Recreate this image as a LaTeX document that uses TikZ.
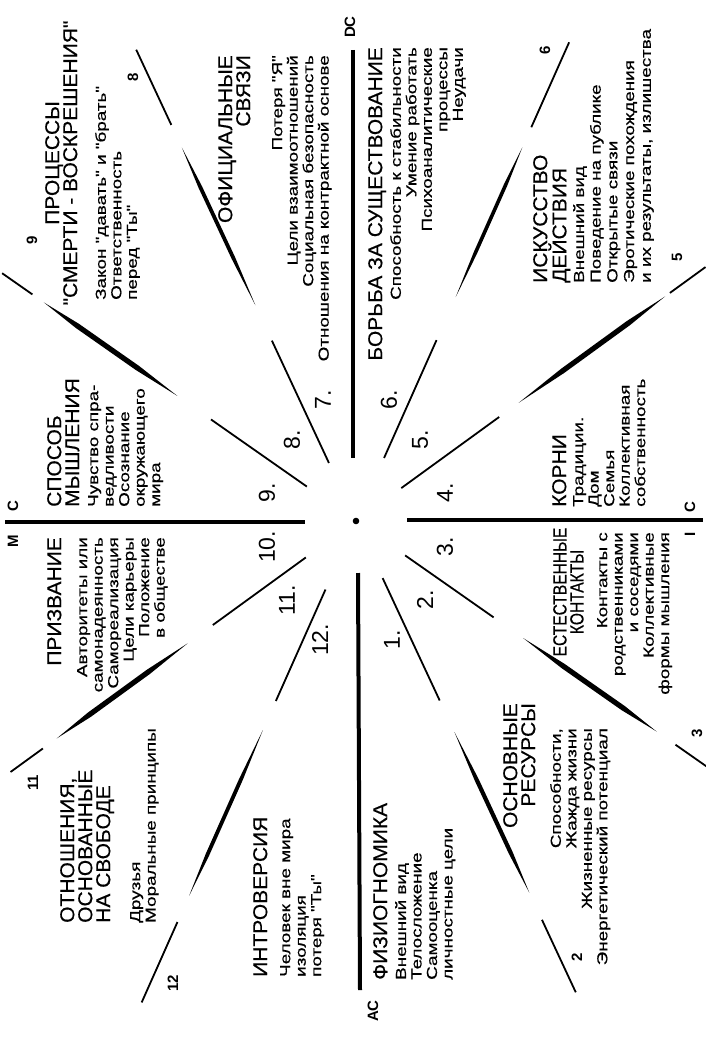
\documentclass[tikz,border=0pt]{standalone}
\usepackage{fontspec}
\usetikzlibrary{calc}
\newfontfamily\ttlfont[FakeStretch=1.05,FakeBold=0.4]{Liberation Sans}
\newfontfamily\ttlnarrow[FakeStretch=0.82,FakeBold=0.4]{Liberation Sans}
\newfontfamily\bodyfont[FakeStretch=1.3,FakeBold=0.5]{Liberation Sans}
\newfontfamily\numfont{Liberation Sans}
\begin{document}
\begin{tikzpicture}[x=1pt,y=-1pt,
  ttl/.style={font=\ttlfont\fontsize{20}{18}\selectfont, rotate=90, inner sep=0pt},
  body/.style={font=\bodyfont\fontsize{14.5}{15.5}\selectfont, rotate=90, inner sep=0pt},
  inum/.style={font=\numfont\fontsize{23}{23}\selectfont, rotate=90, inner sep=0pt},
  onum/.style={font=\numfont\bfseries\fontsize{15}{15}\selectfont, rotate=90, inner sep=0pt},
  axlab/.style={font=\numfont\bfseries\fontsize{15}{15}\selectfont, rotate=90, inner sep=0pt},
  axisline/.style={line width=4pt},
  seg/.style={line width=1.8pt}]
\fill[white] (0,0) rectangle (706,1049);
\useasboundingbox (0,0) rectangle (706,1049);
\coordinate (O) at (356,521);
\fill (O) circle (3.3pt);
% axes
\coordinate (dcA) at (353,50);  \coordinate (dcB) at (353,458);
\coordinate (mcA) at (5,522);   \coordinate (mcB) at (305,522);
\coordinate (icA) at (407,520); \coordinate (icB) at (703,520);
\coordinate (acA) at (358,573); \coordinate (acB) at (360,990);
\draw[axisline] (dcA) -- (dcB);
\draw[axisline] (mcA) -- (mcB);
\draw[axisline] (icA) -- (icB);
\draw[axisline] (acA) -- (acB);
% cusps: angle / inner / middle (brush) / outer radii / brush half width
\foreach \a/\ri/\ro/\mi/\mo/\oi/\oo/\w in {
  36/56/177/201/382/388/432/2.6pt,
  66/69/198/245/409/431/524/1.8pt,
  115/64/199/238/412/437/520/1.9pt,
  145/60/177/218/381/395/432/2.6pt,
  216/62/177/208/370/387/427/2.6pt,
  246/75/197/229/410/439/527/1.9pt,
  295/63/198/233/410/440/520/2.1pt,
  325/60/168/204/367/390/432/2.6pt}{
  \draw[seg] ($(O)+(-\a:\ri)$) -- ($(O)+(-\a:\ro)$);
  \coordinate (bA) at ($(O)+(-\a:\mi)$);
  \coordinate (bB) at ($(O)+(-\a:\mo)$);
  \fill (bA) -- ($(bA)!0.3!(bB)!\w!90:(bB)$) -- ($(bA)!0.75!(bB)!\w!90:(bB)$) -- (bB)
        -- ($(bA)!0.75!(bB)!\w!-90:(bB)$) -- ($(bA)!0.3!(bB)!\w!-90:(bB)$) -- cycle;
  \draw[seg] ($(O)+(-\a:\oi)$) -- ($(O)+(-\a:\oo)$);
}
% axis labels
\node[axlab] (dc) at (350,27) {DC};
\node[axlab] (mcM) at (13,541) {M};
\node[axlab] (mcC) at (13,506) {C};
\node[axlab] (icI) at (690,534) {I};
\node[axlab] (icC) at (690,507) {C};
\node[axlab] (ac) at (373,1011) {AC};
% inner numbers
\node[inum] (n7) at (323,400) {7.};
\node[inum] (n8) at (292,440) {8.};
\node[inum] (n9) at (267,493) {9.};
\node[inum] (n10) at (267,547) {10.};
\node[inum] (n11) at (287,600) {11.};
\node[inum] (n12) at (320,640) {12.};
\node[inum] (n6) at (389,400) {6.};
\node[inum] (n5) at (420,440) {5.};
\node[inum] (n4) at (445,493) {4.};
\node[inum] (n3) at (445,547) {3.};
\node[inum] (n2) at (425,600) {2.};
\node[inum] (n1) at (392,640) {1.};
% outer numbers
\node[onum] (o9) at (32,240) {9};
\node[onum] (o8) at (133,77) {8};
\node[onum] (o6) at (545,50) {6};
\node[onum] (o5) at (677,257) {5};
\node[onum] (o3) at (697,733) {3};
\node[onum] (o2) at (577,957) {2};
\node[onum] (o12) at (173,983) {12};
\node[onum] (o11) at (33,783) {11};
% house 8
\node[ttl, anchor=north, align=center] (t8) at (45,163) {ПРОЦЕССЫ\\"СМЕРТИ - ВОСКРЕШЕНИЯ"};
\node[body, anchor=north west, align=left] (b8) at (95,300) {Закон "давать" и "брать"\\Ответственность\\перед "Ты"};
% house 7
\node[ttl, anchor=north east, align=right] (t7) at (218,55) {ОФИЦИАЛЬНЫЕ\\СВЯЗИ};
\node[body, anchor=north east, align=right] (b7) at (272,55) {Потеря "Я"\\Цели взаимоотношений\\Социальная безопасность\\Отношения на контрактной основе};
% house 6
\node[ttl, anchor=north east, align=right] (t6) at (368,47) {БОРЬБА ЗА СУЩЕСТВОВАНИЕ};
\node[body, anchor=north east, align=right] (b6) at (390,47) {Способность к стабильности\\Умение работать\\Психоаналитические\\процессы\\Неудачи};
% house 5
\node[ttl, anchor=north west, align=left] (t5) at (533,283) {ИСКУССТВО\\ДЕЙСТВИЯ};
\node[body, anchor=north west, align=left, font=\bodyfont\fontsize{14.5}{16.7}\selectfont] (b5) at (573,283) {Внешний вид\\Поведение на публике\\Открытые связи\\Эротические похождения\\и их результаты, излишества};
% house 4
\node[ttl, anchor=north west, align=left] (t4) at (552,507) {КОРНИ};
\node[body, anchor=north west, align=left] (b4) at (573,507) {Традиции.\\Дом\\Семья\\Коллективная\\собственность};
% house 3
\node[ttl, anchor=north, align=center, font=\ttlnarrow\fontsize{19}{17}\selectfont] (t3) at (553,592) {ЕСТЕСТВЕННЫЕ\\КОНТАКТЫ};
\node[body, anchor=north east, align=right] (b3) at (597,532) {Контакты с\\родственниками\\и соседями\\Коллективные\\формы мышления};
% house 2
\node[ttl, anchor=north east, align=right] (t2) at (503,703) {ОСНОВНЫЕ\\РЕСУРСЫ};
\node[body, anchor=north east, align=right] (b2) at (550,728) {Способности,\\Жажда жизни\\Жизненные ресурсы\\Энергетический потенциал};
% house 1
\node[ttl, anchor=north west, align=left] (t1) at (373,980) {ФИЗИОГНОМИКА};
\node[body, anchor=north west, align=left] (b1) at (395,980) {Внешний вид\\Телосложение\\Самооценка\\личностные цели};
% house 12
\node[ttl, anchor=north west, align=left] (t12) at (253,977) {ИНТРОВЕРСИЯ};
\node[body, anchor=north west, align=left] (b12) at (280,977) {Человек вне мира\\изоляция\\потеря "Ты"};
% house 11
\node[ttl, anchor=north west, align=left] (t11) at (60,923) {ОТНОШЕНИЯ,\\ОСНОВАННЫЕ\\НА СВОБОДЕ};
\node[body, anchor=north west, align=left] (b11) at (130,923) {Друзья\\Моральные принципы};
% house 10
\node[ttl, anchor=north east, align=right] (t10) at (47,537) {ПРИЗВАНИЕ};
\node[body, anchor=north east, align=right] (b10) at (77,537) {Авторитеты или\\самонадеянность\\Самореализация\\Цели карьеры\\Положение\\в обществе};
% house 9
\node[ttl, anchor=north west, align=left] (t9) at (47,507) {СПОСОБ\\МЫШЛЕНИЯ};
\node[body, anchor=north west, align=left] (b9) at (88,507) {Чувство спра-\\ведливости\\Осознание\\окружающего\\мира};
\end{tikzpicture}
\end{document}
